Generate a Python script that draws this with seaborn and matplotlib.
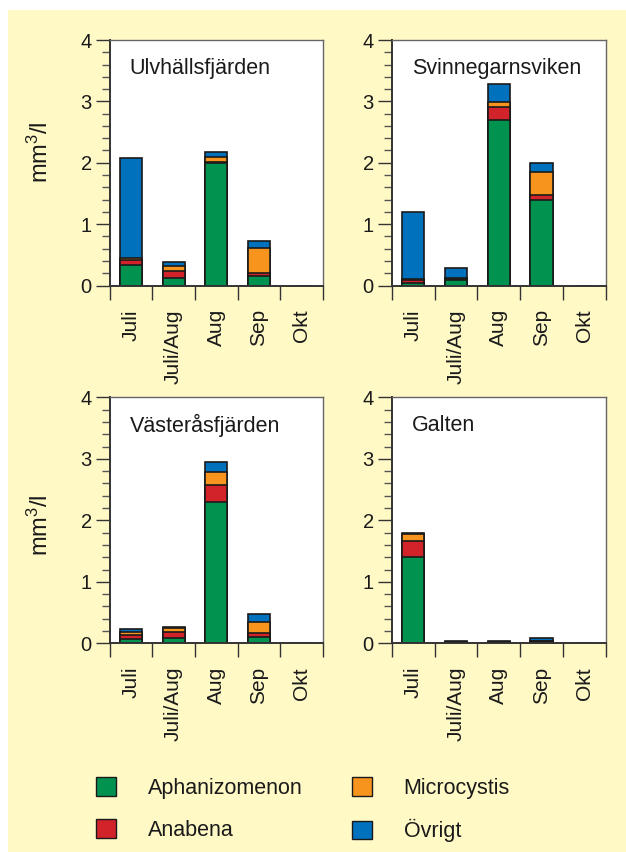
import matplotlib
matplotlib.use("Agg")
import matplotlib.pyplot as plt
from matplotlib.patches import Patch, Rectangle
from matplotlib.ticker import MultipleLocator, FixedLocator
import seaborn as sns
import pandas as pd
import numpy as np

months = ["Juli", "Juli/Aug", "Aug", "Sep", "Okt"]
species = ["Aphanizomenon", "Anabena", "Microcystis", "Övrigt"]
colors = ["#00924f", "#d2232a", "#f7941d", "#0071bc"]

# Ulvhällsfjärden
ulv_aph = [0.34, 0.12, 2.00, 0.16, 0.0]
ulv_ana = [0.08, 0.12, 0.02, 0.05, 0.0]
ulv_mic = [0.03, 0.08, 0.07, 0.40, 0.0]
ulv_ovr = [1.62, 0.07, 0.08, 0.12, 0.0]
# Svinnegarnsviken
svi_aph = [0.04, 0.09, 2.69, 1.40, 0.0]
svi_ana = [0.05, 0.02, 0.22, 0.08, 0.0]
svi_mic = [0.02, 0.01, 0.08, 0.37, 0.0]
svi_ovr = [1.08, 0.16, 0.30, 0.14, 0.0]
# Västeråsfjärden
vas_aph = [0.07, 0.08, 2.29, 0.10, 0.0]
vas_ana = [0.07, 0.11, 0.29, 0.07, 0.0]
vas_mic = [0.045, 0.06, 0.21, 0.17, 0.0]
vas_ovr = [0.055, 0.02, 0.16, 0.14, 0.0]
# Galten
gal_aph = [1.41, 0.01, 0.01, 0.02, 0.0]
gal_ana = [0.25, 0.01, 0.01, 0.01, 0.0]
gal_mic = [0.11, 0.00, 0.00, 0.01, 0.0]
gal_ovr = [0.03, 0.02, 0.01, 0.04, 0.0]

panels = [
    ("Ulvhällsfjärden", [ulv_aph, ulv_ana, ulv_mic, ulv_ovr]),
    ("Svinnegarnsviken", [svi_aph, svi_ana, svi_mic, svi_ovr]),
    ("Västeråsfjärden", [vas_aph, vas_ana, vas_mic, vas_ovr]),
    ("Galten", [gal_aph, gal_ana, gal_mic, gal_ovr]),
]

sns.set_style("white")
plt.rcParams["font.family"] = ["Liberation Sans", "DejaVu Sans"]
plt.rcParams["mathtext.fontset"] = "custom"
plt.rcParams["mathtext.rm"] = "Liberation Sans"
plt.rcParams["mathtext.it"] = "Liberation Sans:italic"

W, H = 626, 852
fig = plt.figure(figsize=(W / 100, H / 100), dpi=100, facecolor="white")
bg = "#fff9c6"
fig.patches.append(Rectangle((8 / W, 0), 1, 1 - 10 / H, transform=fig.transFigure,
                             facecolor=bg, edgecolor="none", zorder=-10))

def px_axes(x0, y0, x1, y1):
    return [x0 / W, 1 - y1 / H, (x1 - x0) / W, (y1 - y0) / H]

rects = [
    px_axes(109.7, 40, 322.7, 285.5),
    px_axes(391.7, 40, 605.7, 285.5),
    px_axes(109.7, 397.3, 322.7, 643.3),
    px_axes(391.7, 397.3, 605.7, 643.3),
]

for (name, layers), rect in zip(panels, rects):
    ax = fig.add_axes(rect)
    ax.set_facecolor("white")
    df = pd.DataFrame({"month": months})
    cum = np.cumsum(np.array(layers), axis=0)
    for k in range(3, -1, -1):
        df["v"] = cum[k]
        sns.barplot(data=df, x="month", y="v", order=months, color=colors[k],
                    saturation=1, width=0.52, edgecolor="#1a1a1a", linewidth=1.2,
                    ax=ax, errorbar=None)
    ax.set_xlabel("")
    ax.set_ylabel("")
    ax.set_xlim(-0.5, 4.5)
    ax.set_ylim(0, 4)
    ax.yaxis.set_major_locator(FixedLocator([0, 1, 2, 3, 4]))
    ax.yaxis.set_minor_locator(MultipleLocator(0.2))
    ax.tick_params(axis="y", which="major", direction="out", length=10, width=1,
                   color="#333333", labelsize=14.5, pad=3, left=True, labelcolor="#1a1a1a")
    ax.tick_params(axis="y", which="minor", direction="out", length=5.5, width=1,
                   color="#555555", left=True)
    ax.xaxis.set_minor_locator(FixedLocator([-0.5, 0.5, 1.5, 2.5, 3.5, 4.5]))
    ax.tick_params(axis="x", which="major", length=0, labelsize=15, pad=17,
                   labelrotation=90, bottom=True, labelcolor="#1a1a1a")
    ax.tick_params(axis="x", which="minor", direction="out", length=10, width=1,
                   color="#333333", bottom=True)
    for lab in ax.get_xticklabels():
        lab.set_rotation(90)
        lab.set_va("top")
        lab.set_ha("center")
    for s in ["left", "bottom"]:
        ax.spines[s].set_color("#333333")
        ax.spines[s].set_linewidth(1.4)
    for s in ["top", "right"]:
        ax.spines[s].set_color("#666666")
        ax.spines[s].set_linewidth(1.0)
    ax.text(20 / 213, 1 - 28 / 245, name, transform=ax.transAxes, fontsize=15.5,
            ha="left", va="center", color="#1a1a1a")

for yc in (152, 525):
    fig.text(40 / W, 1 - yc / H, "mm$^3$/l", rotation=90, ha="center",
             va="center", fontsize=17, color="#1a1a1a")

handles = [Patch(facecolor=c, edgecolor="#1a1a1a", linewidth=1.0) for c in colors]
fig.legend(handles, species, loc="upper left", bbox_to_anchor=(96 / W, 1 - 777 / H),
           ncol=2, frameon=False, fontsize=15.5, handlelength=0.95, handleheight=0.95,
           handletextpad=1.45, columnspacing=2.3, labelspacing=0.95, borderpad=0,
           borderaxespad=0, labelcolor="#1a1a1a")

fig.savefig("out.png", dpi=100, facecolor="white")
